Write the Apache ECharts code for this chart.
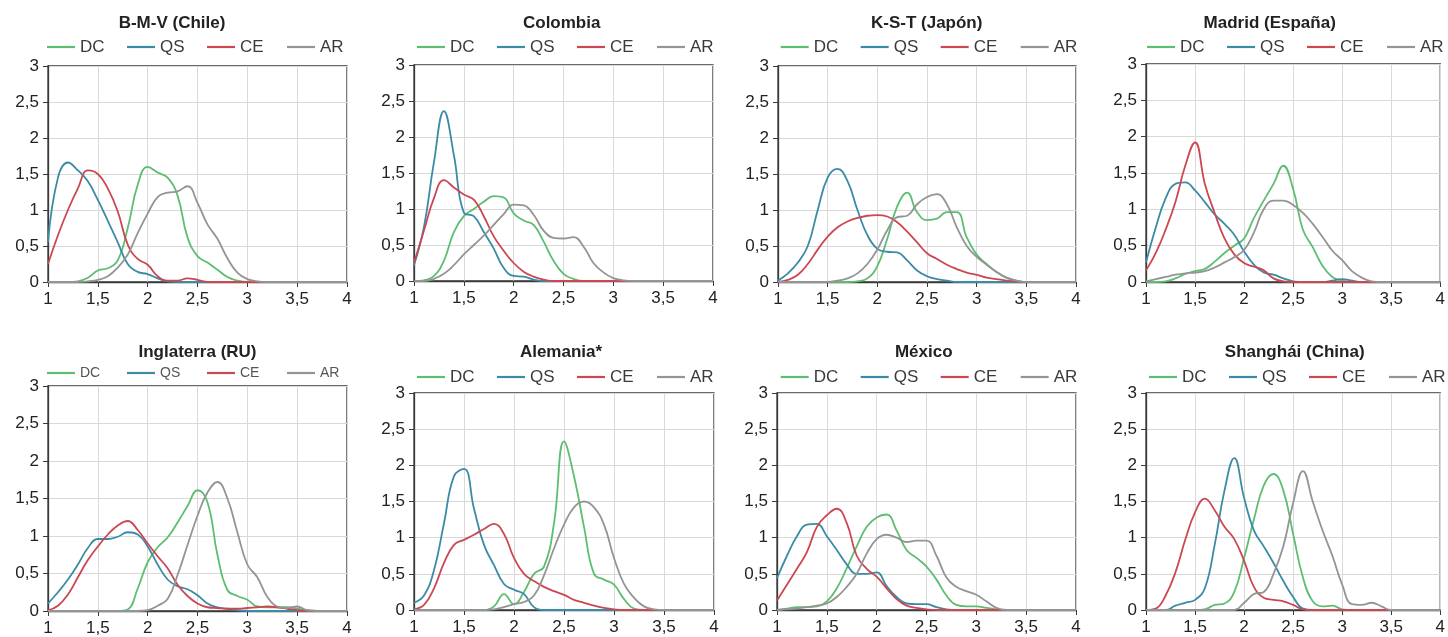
<!DOCTYPE html>
<html><head><meta charset="utf-8">
<script src="https://cdn.jsdelivr.net/npm/echarts@6/dist/echarts.min.js"></script>
<style>html,body{margin:0;padding:0;background:#fff}#c{width:1448px;height:637px}</style>
</head><body><div id="c"></div>
<script>
// x grid (score), shared by every curve
const X = [1.0,1.1,1.2,1.3,1.4,1.5,1.6,1.7,1.8,1.9,2.0,2.1,2.2,2.3,2.4,2.5,2.6,2.7,2.8,2.9,3.0,3.1,3.2,3.3,3.4,3.5,3.6,3.7,3.8,3.9,4.0];
const seriesNames = ['DC','QS','CE','AR'];
const panelTitles = ['B-M-V (Chile)','Colombia','K-S-T (Japón)','Madrid (España)','Inglaterra (RU)','Alemania*','México','Shanghái (China)'];
const xTicks = [1,1.5,2,2.5,3,3.5,4];
const yTicks = [0,0.5,1,1.5,2,2.5,3];

const chileDC = [0,0,0,0.01,0.06,0.16,0.19,0.3,0.75,1.35, 1.6,1.52,1.45,1.2,0.62,0.36,0.27,0.17,0.07,0.02, 0,0,0,0,0,0,0,0,0,0, 0];
const chileQS = [0.55,1.45,1.66,1.55,1.4,1.14,0.85,0.55,0.25,0.14, 0.11,0.05,0.01,0,0,0,0,0,0,0, 0,0,0,0,0,0,0,0,0,0, 0];
const chileCE = [0.25,0.65,1.0,1.3,1.55,1.5,1.3,0.98,0.52,0.32, 0.24,0.08,0.02,0.02,0.05,0.03,0,0,0,0, 0,0,0,0,0,0,0,0,0,0, 0];
const chileAR = [0,0,0,0,0.01,0.03,0.08,0.2,0.38,0.68, 0.95,1.18,1.24,1.26,1.33,1.1,0.8,0.6,0.33,0.13, 0.04,0.01,0,0,0,0,0,0,0,0, 0];

const colombiaDC = [0,0.01,0.07,0.28,0.68,0.9,1.0,1.1,1.18,1.16, 0.94,0.84,0.78,0.55,0.28,0.1,0.03,0,0,0, 0,0,0,0,0,0,0,0,0,0, 0];
const colombiaQS = [0.22,0.75,1.65,2.36,1.75,0.95,0.9,0.68,0.45,0.18, 0.07,0.06,0.02,0,0,0,0,0,0,0, 0,0,0,0,0,0,0,0,0,0, 0];
const colombiaCE = [0.25,0.7,1.15,1.4,1.3,1.2,1.13,0.9,0.62,0.42, 0.25,0.13,0.06,0.02,0,0,0,0,0,0, 0,0,0,0,0,0,0,0,0,0, 0];
const colombiaAR = [0,0,0.03,0.1,0.22,0.37,0.5,0.63,0.78,0.93, 1.06,1.05,0.92,0.7,0.6,0.59,0.61,0.48,0.25,0.12, 0.04,0.01,0,0,0,0,0,0,0,0, 0];

const japonDC = [0,0,0,0,0,0,0,0,0.01,0.05, 0.22,0.6,1.05,1.24,0.97,0.86,0.88,0.97,0.97,0.62, 0.38,0.25,0.14,0.06,0.02,0,0,0,0,0, 0];
const japonQS = [0.02,0.12,0.27,0.5,1.0,1.45,1.57,1.4,1.0,0.65, 0.46,0.42,0.41,0.3,0.16,0.08,0.04,0.02,0,0, 0,0,0,0,0,0,0,0,0,0, 0];
const japonCE = [0,0.03,0.1,0.25,0.45,0.63,0.76,0.84,0.89,0.92, 0.93,0.91,0.83,0.7,0.55,0.4,0.32,0.24,0.18,0.13, 0.1,0.06,0.04,0.02,0.01,0,0,0,0,0, 0];
const japonAR = [0,0,0,0,0,0,0.02,0.05,0.12,0.25, 0.45,0.72,0.9,0.92,1.08,1.18,1.22,1.08,0.76,0.5, 0.35,0.24,0.14,0.06,0.02,0,0,0,0,0, 0];

const madridDC = [0,0,0.01,0.05,0.11,0.15,0.18,0.28,0.4,0.5, 0.6,0.88,1.12,1.35,1.6,1.28,0.72,0.48,0.22,0.07, 0.02,0,0,0,0,0,0,0,0,0, 0];
const madridQS = [0.27,0.75,1.15,1.35,1.37,1.26,1.1,0.93,0.8,0.65, 0.42,0.24,0.13,0.1,0.05,0.01,0,0,0,0.02, 0.04,0.02,0,0,0,0,0,0,0,0, 0];
const madridCE = [0.16,0.4,0.72,1.1,1.6,1.92,1.35,0.95,0.6,0.38, 0.26,0.21,0.16,0.05,0.01,0,0,0,0,0, 0,0,0,0,0,0,0,0,0,0, 0];
const madridAR = [0.01,0.04,0.07,0.1,0.12,0.13,0.15,0.2,0.27,0.34, 0.44,0.68,1.0,1.12,1.12,1.06,0.95,0.8,0.62,0.43, 0.3,0.15,0.06,0.01,0,0,0,0,0,0, 0];

const inglaterraDC = [0,0,0,0,0,0,0,0,0.02,0.3, 0.65,0.85,0.98,1.18,1.4,1.61,1.45,0.75,0.28,0.2, 0.15,0.06,0.05,0.05,0.05,0.03,0.01,0,0,0, 0];
const inglaterraQS = [0.1,0.25,0.42,0.62,0.84,0.96,0.96,0.99,1.05,1.02, 0.86,0.62,0.42,0.33,0.29,0.21,0.1,0.05,0.03,0.01, 0,0,0,0,0,0,0,0,0,0, 0];
const inglaterraCE = [0.01,0.07,0.22,0.45,0.68,0.86,1.02,1.14,1.2,1.08, 0.9,0.73,0.57,0.35,0.2,0.1,0.05,0.04,0.03,0.03, 0.04,0.05,0.06,0.05,0.03,0.01,0,0,0,0, 0];
const inglaterraAR = [0,0,0,0,0,0,0,0,0,0, 0.01,0.07,0.16,0.48,0.88,1.27,1.58,1.72,1.5,1.05, 0.62,0.45,0.19,0.06,0.04,0.06,0.01,0,0,0, 0];

const alemaniaDC = [0,0,0,0,0,0,0,0,0.05,0.22, 0.08,0.25,0.5,0.6,1.2,2.33,1.85,1.15,0.5,0.42, 0.35,0.15,0.02,0,0,0,0,0,0,0, 0];
const alemaniaQS = [0.1,0.2,0.55,1.2,1.85,1.95,1.4,0.9,0.62,0.36, 0.28,0.22,0.04,0,0,0,0,0,0,0, 0,0,0,0,0,0,0,0,0,0, 0];
const alemaniaCE = [0.01,0.07,0.3,0.65,0.9,0.97,1.04,1.12,1.19,1.05, 0.72,0.5,0.4,0.32,0.26,0.21,0.14,0.1,0.06,0.03, 0.01,0,0,0,0,0,0,0,0,0, 0];
const alemaniaAR = [0,0,0,0,0,0,0,0,0.01,0.04, 0.08,0.11,0.2,0.48,0.85,1.18,1.42,1.5,1.42,1.18, 0.72,0.36,0.17,0.05,0.01,0,0,0,0,0, 0];

const mexicoDC = [0,0.02,0.04,0.04,0.05,0.12,0.3,0.58,0.88,1.15, 1.28,1.32,1.1,0.83,0.72,0.6,0.42,0.2,0.07,0.05, 0.05,0.03,0.01,0,0,0,0,0,0,0, 0];
const mexicoQS = [0.44,0.75,1.02,1.18,1.19,1.02,0.83,0.63,0.5,0.5, 0.52,0.33,0.18,0.09,0.08,0.08,0.04,0.01,0,0, 0,0,0,0,0,0,0,0,0,0, 0];
const mexicoCE = [0.13,0.35,0.57,0.8,1.15,1.31,1.4,1.2,0.75,0.57, 0.46,0.3,0.15,0.06,0.03,0.01,0,0,0,0, 0,0,0,0,0,0,0,0,0,0, 0];
const mexicoAR = [0,0.01,0.02,0.04,0.06,0.09,0.18,0.32,0.5,0.78, 0.98,1.04,1.0,0.94,0.96,0.96,0.75,0.45,0.32,0.26, 0.21,0.12,0.03,0,0,0,0,0,0,0, 0];

const shanghaiDC = [0,0,0,0,0,0,0.01,0.07,0.09,0.25, 0.72,1.25,1.72,1.88,1.65,1.05,0.45,0.12,0.05,0.06, 0.01,0,0,0,0,0,0,0,0,0, 0];
const shanghaiQS = [0,0,0,0.06,0.1,0.14,0.3,0.9,1.65,2.1, 1.55,1.1,0.88,0.65,0.4,0.18,0.02,0,0,0, 0,0,0,0,0,0,0,0,0,0, 0];
const shanghaiCE = [0,0.02,0.2,0.52,0.97,1.35,1.54,1.38,1.15,0.98, 0.68,0.32,0.17,0.14,0.12,0.07,0.01,0,0,0, 0,0,0,0,0,0,0,0,0,0, 0];
const shanghaiAR = [0,0,0,0,0,0,0,0,0,0, 0.1,0.22,0.25,0.5,0.88,1.48,1.92,1.5,1.1,0.75, 0.35,0.08,0.07,0.1,0.05,0,0,0,0,0, 0];

const panelData = [
  [chileDC, chileQS, chileCE, chileAR],
  [colombiaDC, colombiaQS, colombiaCE, colombiaAR],
  [japonDC, japonQS, japonCE, japonAR],
  [madridDC, madridQS, madridCE, madridAR],
  [inglaterraDC, inglaterraQS, inglaterraCE, inglaterraAR],
  [alemaniaDC, alemaniaQS, alemaniaCE, alemaniaAR],
  [mexicoDC, mexicoQS, mexicoCE, mexicoAR],
  [shanghaiDC, shanghaiQS, shanghaiCE, shanghaiAR]
];

// layout (pixels)
const layout = [
  {l:48,  t:66,  w:299, h:216, tx:172,   ty:23,  lx:47,   ly:47.5, lf:17, lc:'#3a3a3a'},
  {l:414, t:65,  w:299, h:216, tx:561.7, ty:23,  lx:417,  ly:47.5, lf:17, lc:'#3a3a3a'},
  {l:778, t:66,  w:298, h:216, tx:926.7, ty:23,  lx:780.7,ly:47.5, lf:17, lc:'#3a3a3a'},
  {l:1146,t:64,  w:298, h:218, tx:1269.7,ty:23,  lx:1147, ly:47.5, lf:17, lc:'#3a3a3a'},
  {l:48,  t:386, w:299, h:225, tx:197.5, ty:352, lx:47,   ly:375,  lf:14, lc:'#555'},
  {l:414, t:393, w:300, h:217, tx:561,   ty:352, lx:417,  ly:377.5,lf:17, lc:'#3a3a3a'},
  {l:777, t:393, w:299, h:217, tx:923.7, ty:352, lx:780.7,ly:377.5,lf:17, lc:'#3a3a3a'},
  {l:1146,t:393, w:298, h:217, tx:1294.7,ty:352, lx:1149, ly:377.5,lf:17, lc:'#3a3a3a'}
];
const legendStep = 80;
const colors = ['#5dbd71','#3b8ba6','#cb4752','#949494'];
const FONT = 'Liberation Sans, Arial, sans-serif';
const fmt = v => String(v).replace('.', ',');

const option = {animation:false, title:[], legend:[], grid:[], xAxis:[], yAxis:[], series:[]};
layout.forEach((L, i) => {
  option.title.push({text: panelTitles[i], left: L.tx, top: L.ty - 8, textAlign:'center', padding:0,
    textStyle:{fontSize:17, fontWeight:'bold', color:'#222', fontFamily:FONT}});
  seriesNames.forEach((nm, k) => {
    option.legend.push({data:[nm], left: L.lx + legendStep * k, top: L.ly - 9, padding:0,
      icon:'rect', itemWidth:28, itemHeight:2.2,
      textStyle:{fontSize:L.lf, color:L.lc, fontFamily:FONT}});
  });
  option.grid.push({left:L.l, top:L.t, width:L.w, height:L.h, show:true, borderColor:'#3a3a3a', borderWidth:1.3, backgroundColor:'transparent'});
  option.xAxis.push({gridIndex:i, type:'value', min:xTicks[0], max:xTicks[xTicks.length-1], interval:0.5,
    axisLine:{show:true, onZero:false, lineStyle:{color:'#3a3a3a', width:1.3}},
    axisTick:{show:true, length:5, lineStyle:{color:'#3a3a3a'}},
    axisLabel:{formatter:fmt, fontSize:17, color:'#222', fontFamily:FONT, margin:9},
    splitLine:{show:true, lineStyle:{color:'#d9d9d9', width:1}}});
  option.yAxis.push({gridIndex:i, type:'value', min:yTicks[0], max:yTicks[yTicks.length-1], interval:0.5,
    axisLine:{show:true, onZero:false, lineStyle:{color:'#3a3a3a', width:1.3}},
    axisTick:{show:true, length:5, lineStyle:{color:'#3a3a3a'}},
    axisLabel:{formatter:fmt, fontSize:17, color:'#222', fontFamily:FONT, margin:9},
    splitLine:{show:true, lineStyle:{color:'#d9d9d9', width:1}}});
  panelData[i].forEach((ys, k) => {
    option.series.push({name: seriesNames[k], type:'line', xAxisIndex:i, yAxisIndex:i,
      data: X.map((x, j) => [x, ys[j]]), smooth:0.45, symbol:'none', clip:true,
      color: colors[k], lineStyle:{color: colors[k], width:1.8}, z: 2});
  });
});
const chart = echarts.init(document.getElementById('c'));
chart.setOption(option);
</script></body></html>
